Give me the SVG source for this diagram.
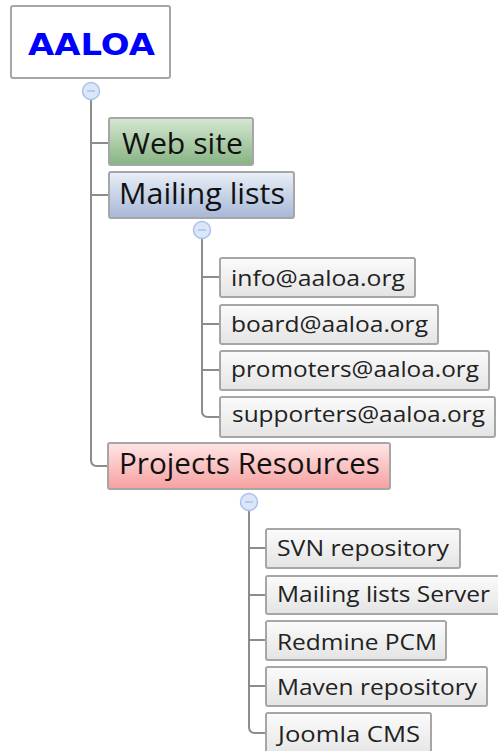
<svg xmlns="http://www.w3.org/2000/svg" width="498" height="751" viewBox="0 0 498 751">
<defs>
<linearGradient id="gGreen" x1="0" y1="0" x2="0" y2="1"><stop offset="0" stop-color="#d6e8d2"/><stop offset="1" stop-color="#86b383"/></linearGradient>
<linearGradient id="gBlue" x1="0" y1="0" x2="0" y2="1"><stop offset="0" stop-color="#eaeff7"/><stop offset="1" stop-color="#a6b7d6"/></linearGradient>
<linearGradient id="gRed" x1="0" y1="0" x2="0" y2="1"><stop offset="0" stop-color="#ffe6e6"/><stop offset="1" stop-color="#f6a0a0"/></linearGradient>
<linearGradient id="gGray" x1="0" y1="0" x2="0" y2="1"><stop offset="0" stop-color="#fbfbfb"/><stop offset="1" stop-color="#e4e4e4"/></linearGradient>
</defs>
<style>
.box{stroke:#a6a6a6;stroke-width:2}
.leaf{fill:url(#gGray)}
.big{font-family:"Open Sans","Noto Sans",sans-serif;font-size:29px;fill:#111}
.small{font-family:"Open Sans","Noto Sans",sans-serif;font-size:22px;fill:#222}
.root{font-family:"DejaVu Sans",Verdana,sans-serif;font-weight:bold;font-size:30px;fill:#0000ff}
.conn{fill:none;stroke:#8c8c8c;stroke-width:2}
.tog{fill:#dbe6f8;stroke:#a9c3ec;stroke-width:1.5}
.minus{stroke:#a9c3ec;stroke-width:1.5}
</style>
<g id="connectors">
<path class="conn" d="M91,100 V460 Q91,466 97,466 H108"/>
<path class="conn" d="M91,143 H109"/>
<path class="conn" d="M91,195 H109"/>
<path class="conn" d="M202,239 V411 Q202,417 208,417 H219"/>
<path class="conn" d="M202,277 H219"/>
<path class="conn" d="M202,324 H219"/>
<path class="conn" d="M202,370 H219"/>
<path class="conn" d="M249,511 V727 Q249,733 255,733 H266"/>
<path class="conn" d="M249,548 H266"/>
<path class="conn" d="M249,595 H266"/>
<path class="conn" d="M249,640 H266"/>
<path class="conn" d="M249,686 H266"/>
<circle class="tog" cx="91" cy="91" r="8.5"/><line class="minus" x1="87" y1="91" x2="95" y2="91"/>
<circle class="tog" cx="202" cy="230" r="8.5"/><line class="minus" x1="198" y1="230" x2="206" y2="230"/>
<circle class="tog" cx="249" cy="502" r="8.5"/><line class="minus" x1="245" y1="502" x2="253" y2="502"/>
</g>
<g id="root"><rect class="box" x="11" y="6" width="159" height="72" rx="2" fill="#fff"/><text class="root" x="28" y="55" textLength="127" lengthAdjust="spacingAndGlyphs">AALOA</text></g>
<g id="website"><rect class="box" x="109" y="118" width="144" height="47" rx="2" fill="url(#gGreen)"/><text class="big" x="122" y="154" textLength="121" lengthAdjust="spacingAndGlyphs">Web site</text></g>
<g id="mailinglists"><rect class="box" x="109" y="172" width="185" height="46" rx="2" fill="url(#gBlue)"/><text class="big" x="119" y="204" textLength="166" lengthAdjust="spacingAndGlyphs">Mailing lists</text></g>
<g id="info"><rect class="box leaf" x="220" y="258" width="195" height="39" rx="2"/><text class="small" x="231" y="286" textLength="174" lengthAdjust="spacingAndGlyphs">info@aaloa.org</text></g>
<g id="board"><rect class="box leaf" x="220" y="305" width="218" height="39" rx="2"/><text class="small" x="231" y="332" textLength="197" lengthAdjust="spacingAndGlyphs">board@aaloa.org</text></g>
<g id="promoters"><rect class="box leaf" x="220" y="351" width="269" height="39" rx="2"/><text class="small" x="231" y="377" textLength="248" lengthAdjust="spacingAndGlyphs">promoters@aaloa.org</text></g>
<g id="supporters"><rect class="box leaf" x="220" y="397" width="275" height="40" rx="2"/><text class="small" x="232" y="422" textLength="253" lengthAdjust="spacingAndGlyphs">supporters@aaloa.org</text></g>
<g id="projects"><rect class="box" x="108" y="443" width="282" height="46" rx="2" fill="url(#gRed)"/><text class="big" x="119" y="474" textLength="261" lengthAdjust="spacingAndGlyphs">Projects Resources</text></g>
<g id="svn"><rect class="box leaf" x="266" y="529" width="194" height="39" rx="2"/><text class="small" x="277" y="556" textLength="172" lengthAdjust="spacingAndGlyphs">SVN repository</text></g>
<g id="mlserver"><rect class="box leaf" x="266" y="576" width="240" height="38" rx="2"/><text class="small" x="277" y="602" textLength="213" lengthAdjust="spacingAndGlyphs">Mailing lists Server</text></g>
<g id="redmine"><rect class="box leaf" x="266" y="621" width="180" height="39" rx="2"/><text class="small" x="277" y="650" textLength="160" lengthAdjust="spacingAndGlyphs">Redmine PCM</text></g>
<g id="maven"><rect class="box leaf" x="266" y="667" width="221" height="39" rx="2"/><text class="small" x="277" y="695" textLength="200" lengthAdjust="spacingAndGlyphs">Maven repository</text></g>
<g id="joomla"><rect class="box leaf" x="266" y="713" width="165" height="45" rx="2"/><text class="small" x="278" y="742" textLength="142" lengthAdjust="spacingAndGlyphs">Joomla CMS</text></g>
</svg>
